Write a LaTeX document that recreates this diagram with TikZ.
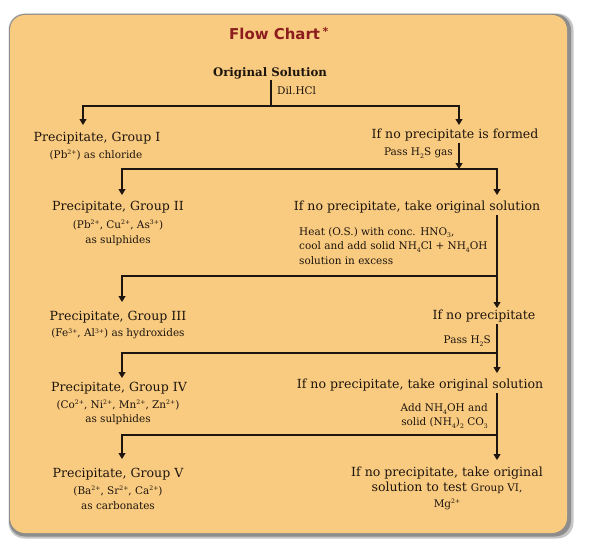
\documentclass[tikz,border=0pt]{standalone}
\usepackage{fontspec}
\setmainfont{DejaVu Serif}
\newfontfamily\titlefont{DejaVu Sans}
\usetikzlibrary{arrows.meta}
\definecolor{boxfill}{RGB}{249,203,128}
\definecolor{ink}{RGB}{30,21,14}
\definecolor{titlered}{RGB}{140,28,30}
\definecolor{shadowgray}{RGB}{128,128,128}
\newcommand{\sps}[1]{\raisebox{0.6ex}{\fontsize{6.2}{6.2}\selectfont #1}}
\newcommand{\sbs}[1]{\raisebox{-0.45ex}{\fontsize{6.2}{6.2}\selectfont #1}}
\begin{document}
\begin{tikzpicture}[x=1bp,y=-1bp,
  titlestyle/.style={font=\titlefont\bfseries\fontsize{15}{17}\selectfont, text=titlered, inner sep=0pt},
  boldmain/.style={font=\bfseries\fontsize{11.8}{13}\selectfont, text=ink, inner sep=1.5pt},
  main/.style={font=\fontsize{12.6}{14}\selectfont, text=ink, inner sep=1.5pt},
  sub/.style={font=\fontsize{10.5}{12}\selectfont, text=ink, inner sep=1pt},
  ln/.style={draw=ink, line width=1.1pt},
  arr/.style={ln, -{Triangle[width=7pt,length=6pt]}}]
\useasboundingbox (0,0) rectangle (596,551);
% box with shadow
\fill[shadowgray!45, rounded corners=16bp] (8.5,13.5) rectangle (573.5,538.5);
\fill[shadowgray!90, rounded corners=16bp] (9,14) rectangle (571,536.5);
\fill[boxfill, rounded corners=15bp] (10,15) rectangle (567,533);

% title and start
\node[titlestyle, anchor=base west] (title) at (229,40) {Flow Chart\,\raisebox{0.55ex}{\fontsize{11}{11}\selectfont *}};
\node[boldmain] (orig) at (270,73) {Original Solution};
\node[sub, anchor=west] (dil) at (276,91) {Dil.HCl};

% row 1
\node[main] (g1) at (97,138) {Precipitate, Group I};
\node[sub] (g1s) at (96,155) {(Pb\sps{2+}) as chloride};
\node[main] (r1) at (455,135) {If no precipitate is formed};
\node[sub, anchor=east] (pass1) at (454,153) {Pass H\sbs{2}S gas};

% row 2
\node[main] (g2) at (118,207) {Precipitate, Group II};
\node[sub] (g2a) at (118,225) {(Pb\sps{2+}, Cu\sps{2+}, As\sps{3+})};
\node[sub] (g2b) at (118,241) {as sulphides};
\node[main] (r2) at (417,207) {If no precipitate, take original solution};
\node[sub, anchor=west, align=left, font=\fontsize{10.5}{14.5}\selectfont] (heat) at (298,246)
  {Heat (O.S.) with conc. HNO\sbs{3},\\cool and add solid NH\sbs{4}Cl + NH\sbs{4}OH\\solution in excess};

% row 3
\node[main] (g3) at (118,317) {Precipitate, Group III};
\node[sub] (g3s) at (118,334) {(Fe\sps{3+}, Al\sps{3+}) as hydroxides};
\node[main] (r3) at (484,316) {If no precipitate};
\node[sub, anchor=east] (pass2) at (492,341) {Pass H\sbs{2}S};

% row 4
\node[main] (g4) at (119,388) {Precipitate, Group IV};
\node[sub] (g4a) at (118,405) {(Co\sps{2+}, Ni\sps{2+}, Mn\sps{2+}, Zn\sps{2+})};
\node[sub] (g4b) at (118,420) {as sulphides};
\node[main] (r4) at (420,385) {If no precipitate, take original solution};
\node[sub, anchor=east, align=right, font=\fontsize{10.5}{14}\selectfont] (add) at (489,416)
  {Add NH\sbs{4}OH and\\solid (NH\sbs{4})\sbs{2} CO\sbs{3}};

% row 5
\node[main] (g5) at (118,474) {Precipitate, Group V};
\node[sub] (g5a) at (118,491) {(Ba\sps{2+}, Sr\sps{2+}, Ca\sps{2+})};
\node[sub] (g5b) at (118,506) {as carbonates};
\node[main, align=center, font=\fontsize{12.6}{15.5}\selectfont] (r5) at (447,488)
  {If no precipitate, take original\\solution to test {\fontsize{10.5}{11}\selectfont Group VI,}\\{\fontsize{10.5}{11}\selectfont Mg\sps{2+}}};

% junctions and arrow tips
\coordinate (j1) at (271,106);
\coordinate (t1l) at (83,125);
\coordinate (t1r) at (459,125);
\coordinate (j2) at (459,169);
\coordinate (t2l) at (122,195);
\coordinate (t2r) at (497,195);
\coordinate (j3) at (497,276);
\coordinate (t3l) at (122,302);
\coordinate (t3r) at (497,308);
\coordinate (j4) at (497,353);
\coordinate (t4l) at (122,378);
\coordinate (t4r) at (497,373);
\coordinate (j5) at (497,435);
\coordinate (t5l) at (122,459);
\coordinate (t5r) at (497,460);

\draw[ln] (orig.south -| j1) -- (j1);
\draw[arr] (j1) -| (t1l);
\draw[arr] (j1) -| (t1r);
\draw[arr] (r1.south -| j2) -- (j2);
\draw[arr] (j2) -| (t2l);
\draw[arr] (j2) -| (t2r);
\draw[arr] (r2.south -| j3) -- (t3r);
\draw[arr] (j3) -| (t3l);
\draw[arr] (r3.south -| j4) -- (t4r);
\draw[arr] (j4) -| (t4l);
\draw[arr] (r4.south -| j5) -- (t5r);
\draw[arr] (j5) -| (t5l);
\end{tikzpicture}
\end{document}
